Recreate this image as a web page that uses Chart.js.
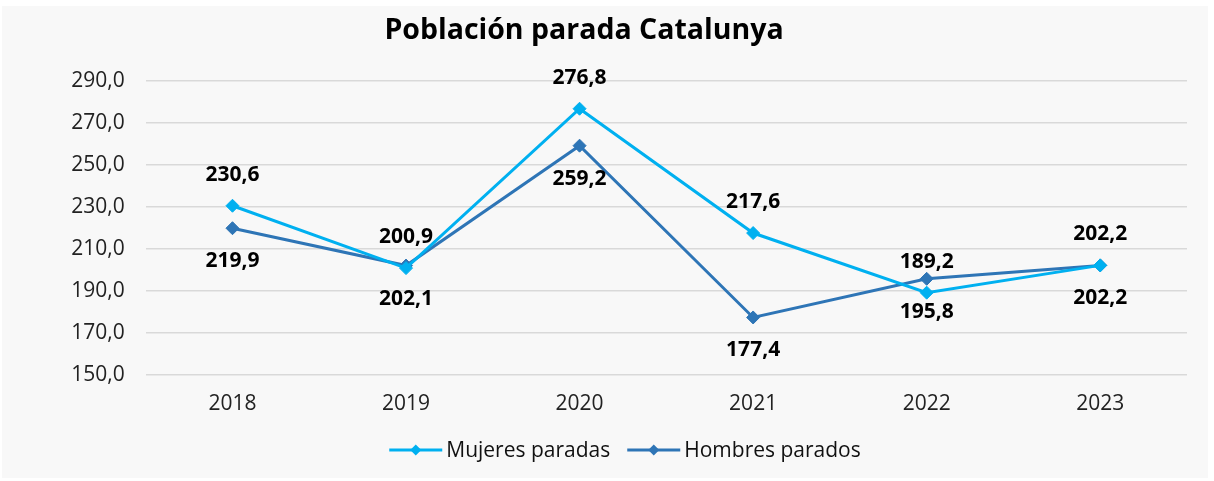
<!DOCTYPE html>
<html><head><meta charset="utf-8">
<script src="https://cdn.jsdelivr.net/npm/chart.js@4.4.1/dist/chart.umd.min.js"></script>
<style>html,body{margin:0;padding:0;background:#fff;overflow:hidden;}</style>
</head><body>
<canvas id="c" width="1214" height="481" style="display:block;width:1214px;height:481px"></canvas>
<script>
const titleText = 'Población parada Catalunya';
const categories = ['2018', '2019', '2020', '2021', '2022', '2023'];
const seriesLabels = ['Mujeres paradas', 'Hombres parados'];
const mujeresParadas = [230.6, 200.9, 276.8, 217.6, 189.2, 202.2];
const hombresParados = [219.9, 202.1, 259.2, 177.4, 195.8, 202.2];
const yTicks = [150, 170, 190, 210, 230, 250, 270, 290];

const FONT = '"Open Sans", "Noto Sans", sans-serif';
const fmt = v => v.toFixed(1).replace('.', ',');

const bgPlugin = {
  id: 'bg',
  beforeDraw(chart) {
    const ctx = chart.ctx;
    ctx.save();
    ctx.fillStyle = '#ffffff';
    ctx.fillRect(0, 0, chart.width, chart.height);
    ctx.fillStyle = '#f8f8f8';
    ctx.fillRect(2, 6, 1206, 472);
    ctx.restore();
  }
};

const titlePlugin = {
  id: 'customTitle',
  afterDraw(chart) {
    const ctx = chart.ctx;
    ctx.save();
    ctx.font = 'bold 28.5px ' + FONT;
    ctx.fillStyle = '#000';
    ctx.textAlign = 'center';
    ctx.textBaseline = 'middle';
    ctx.fillText(titleText, 584, 31);
    ctx.restore();
  }
};

const labelPlugin = {
  id: 'valueLabels',
  afterDatasetsDraw(chart) {
    const ctx = chart.ctx;
    ctx.save();
    ctx.font = 'bold 21px ' + FONT;
    ctx.fillStyle = '#000';
    ctx.textAlign = 'center';
    ctx.textBaseline = 'middle';
    chart.data.datasets.forEach((ds, i) => {
      const meta = chart.getDatasetMeta(i);
      const off = i === 0 ? -31 : 33;
      meta.data.forEach((pt, j) => {
        ctx.fillText(fmt(ds.data[j]), pt.x, pt.y + off);
      });
    });
    ctx.restore();
  }
};

const legendPlugin = {
  id: 'customLegend',
  afterDraw(chart) {
    const ctx = chart.ctx;
    ctx.save();
    ctx.font = '21px ' + FONT;
    ctx.textBaseline = 'middle';
    ctx.textAlign = 'left';
    const lineW = 53, gapT = 4, gapI = 17;
    const items = chart.data.datasets.map(ds => ({ text: ds.label, color: ds.borderColor, w: ctx.measureText(ds.label).width }));
    let total = 0;
    items.forEach((it, i) => { total += lineW + gapT + it.w + (i < items.length - 1 ? gapI : 0); });
    let x = 625 - total / 2;
    const y = 450;
    items.forEach(it => {
      ctx.strokeStyle = it.color;
      ctx.lineWidth = 3;
      ctx.beginPath();
      ctx.moveTo(x, y);
      ctx.lineTo(x + lineW, y);
      ctx.stroke();
      const cx = x + lineW / 2, r = 5.5;
      ctx.fillStyle = it.color;
      ctx.beginPath();
      ctx.moveTo(cx, y - r); ctx.lineTo(cx + r, y); ctx.lineTo(cx, y + r); ctx.lineTo(cx - r, y);
      ctx.closePath();
      ctx.fill();
      ctx.fillStyle = '#111';
      ctx.fillText(it.text, x + lineW + gapT, y + 1);
      x += lineW + gapT + it.w + gapI;
    });
    ctx.restore();
  }
};

const mkDs = (label, data, color) => ({
  label, data,
  borderColor: color,
  backgroundColor: color,
  borderWidth: 3,
  tension: 0,
  pointStyle: 'rectRot',
  pointRadius: 6.5,
  pointHoverRadius: 6.5,
  pointBackgroundColor: color,
  pointBorderColor: color,
  pointBorderWidth: 1
});

new Chart(document.getElementById('c'), {
  type: 'line',
  data: {
    labels: categories,
    datasets: [
      mkDs(seriesLabels[0], mujeresParadas, '#00b0f0'),
      mkDs(seriesLabels[1], hombresParados, '#2e75b6')
    ]
  },
  plugins: [bgPlugin, labelPlugin, titlePlugin, legendPlugin],
  options: {
    responsive: false,
    animation: false,
    devicePixelRatio: 1,
    layout: { padding: { left: 0, right: 27, top: 81, bottom: 0 } },
    plugins: { legend: { display: false }, title: { display: false }, tooltip: { enabled: false } },
    scales: {
      x: {
        offset: true,
        grid: { display: false, drawTicks: false },
        border: { display: false },
        ticks: { color: '#222', font: { family: FONT, size: 21 }, padding: 16 },
        afterFit(s) { s.height = 106; }
      },
      y: {
        min: 150, max: 290,
        grid: { color: '#d9d9d9', lineWidth: 1.5, drawTicks: false },
        border: { display: false },
        ticks: { color: '#222', font: { family: FONT, size: 21 }, padding: 21, callback: v => fmt(v) },
        afterBuildTicks(s) { s.ticks = yTicks.map(v => ({ value: v })); },
        afterFit(s) { s.width = 145.7; }
      }
    }
  }
});
</script>
</body></html>
